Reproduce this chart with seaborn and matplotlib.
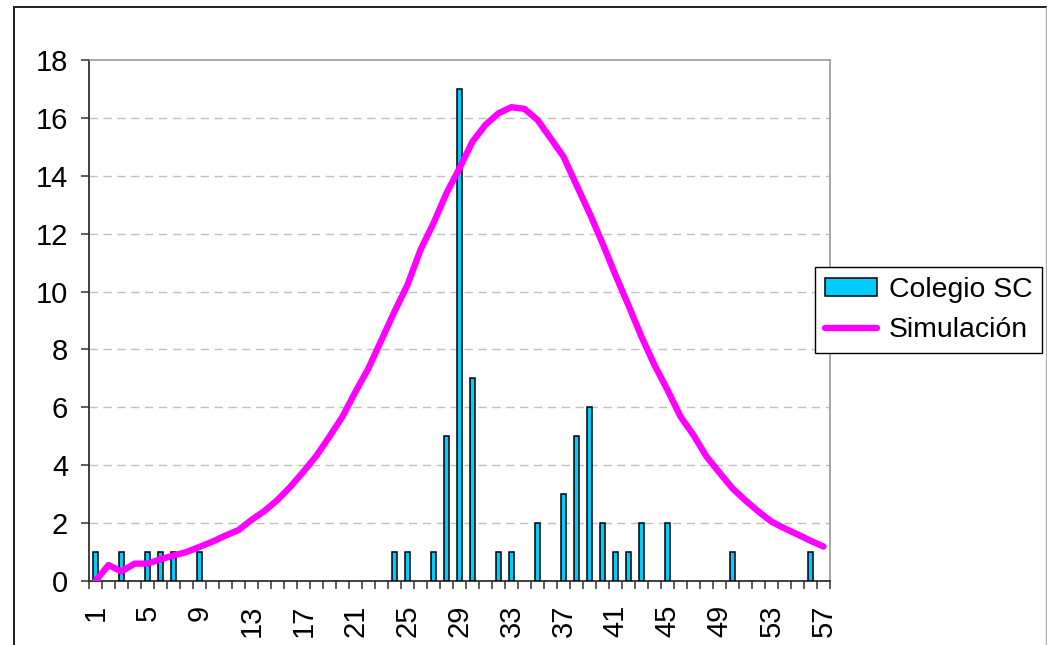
import numpy as np
import pandas as pd
import seaborn as sns
import matplotlib.pyplot as plt
from matplotlib.patches import Rectangle
from matplotlib.lines import Line2D

# Data
categories = list(range(1, 58))
tick_labels = [str(c) for c in range(1, 58, 4)]

colegio_x = [1, 3, 5, 6, 7, 9, 24, 25, 27, 28, 29, 30, 32, 33, 35, 37, 38, 39,
             40, 41, 42, 43, 45, 50, 56]
colegio_y = [1, 1, 1, 1, 1, 1, 1, 1, 1, 5, 17, 7, 1, 1, 2, 3, 5, 6,
             2, 1, 1, 2, 2, 1, 1]

simulacion = [0.0, 0.55, 0.33, 0.6, 0.6, 0.75, 0.88, 1.0, 1.18, 1.36,
              1.57, 1.76, 2.11, 2.42, 2.8, 3.26, 3.78, 4.33, 4.99, 5.68,
              6.54, 7.35, 8.33, 9.31, 10.23, 11.44, 12.36, 13.4, 14.26, 15.18,
              15.76, 16.16, 16.37, 16.31, 15.93, 15.3, 14.66, 13.68, 12.71, 11.67,
              10.57, 9.52, 8.44, 7.46, 6.6, 5.68, 5.04, 4.3, 3.74, 3.2,
              2.78, 2.4, 2.05, 1.82, 1.61, 1.39, 1.19]

df_bars = pd.DataFrame({"x": colegio_x, "y": colegio_y})
df_line = pd.DataFrame({"x": categories, "y": simulacion})

sns.set_style("white")
plt.rcParams['font.family'] = ['Liberation Sans', 'DejaVu Sans']
plt.rcParams['text.color'] = 'black'
plt.rcParams['xtick.color'] = 'black'
plt.rcParams['ytick.color'] = 'black'

fig = plt.figure(figsize=(10.47, 6.45), dpi=100)
ax = fig.add_axes([89 / 1047, 1 - 581 / 645, (830 - 89) / 1047, (581 - 60) / 645])

# outer chart border
fig.patches.append(Rectangle((14 / 1047, -0.1), 1.2, 1 - 7 / 645 + 0.1,
                             transform=fig.transFigure, fill=False,
                             edgecolor="#202020", linewidth=1.4, zorder=0))
fig.lines.append(Line2D([1046 / 1047, 1046 / 1047], [0, 1 - 7 / 645],
                        transform=fig.transFigure, color="#b0b0b0", linewidth=1))

sns.barplot(data=df_bars, x="x", y="y", native_scale=True, width=0.42,
            color="#00CCFF", edgecolor="black", linewidth=1.1,
            saturation=1, errorbar=None, ax=ax, zorder=3)
sns.lineplot(data=df_line, x="x", y="y", color="#FF00FF", linewidth=4.6,
             ax=ax, zorder=4, solid_capstyle="round", solid_joinstyle="round")

ax.set_xlim(0.5, 57.5)
ax.set_ylim(0, 18)
ax.set_xlabel("")
ax.set_ylabel("")

# y axis
ax.set_yticks(np.arange(0, 19, 2))
ax.tick_params(axis="y", which="major", direction="out", length=6, width=1.1,
               color="#303030", labelcolor="black", labelsize=21, pad=9, left=True)
for yv in range(2, 18, 2):
    ax.axhline(yv, color="#c0c0c0", linewidth=1, linestyle=(0, (6, 4)), zorder=1)

# x axis: boundary ticks, labels on every 4th category
ax.set_xticks(np.arange(0.5, 58, 1), minor=True)
ax.set_xticks(range(1, 58, 4))
ax.set_xticklabels(tick_labels, rotation=90)
ax.tick_params(axis="x", which="minor", direction="out", length=6, width=1.1,
               color="#303030", bottom=True)
ax.tick_params(axis="x", which="major", length=0, labelsize=21, pad=17,
               labelcolor="black")

for side in ["left", "bottom"]:
    ax.spines[side].set_color("#303030")
    ax.spines[side].set_linewidth(1.3)
for side in ["top", "right"]:
    ax.spines[side].set_color("#a0a0a0")
    ax.spines[side].set_linewidth(1.3)
ax.set_axisbelow(False)

handles = [Rectangle((0, 0), 1, 1, facecolor="#00CCFF", edgecolor="black", linewidth=1.1),
           Line2D([], [], color="#FF00FF", linewidth=4.6, solid_capstyle="round")]
leg = ax.legend(handles, ["Colegio SC", "Simulación"], loc="upper left",
                bbox_to_anchor=(815 / 1047, 1 - 267 / 645), bbox_transform=fig.transFigure,
                borderaxespad=0, fontsize=20.4, frameon=True, fancybox=False,
                edgecolor="black", framealpha=1, handlelength=1.85, handleheight=0.6,
                handletextpad=0.4, labelspacing=0.5, borderpad=0.35)
leg.get_frame().set_linewidth(1)
for t in leg.get_texts():
    t.set_color("black")

fig.savefig("out.png", dpi=100)
